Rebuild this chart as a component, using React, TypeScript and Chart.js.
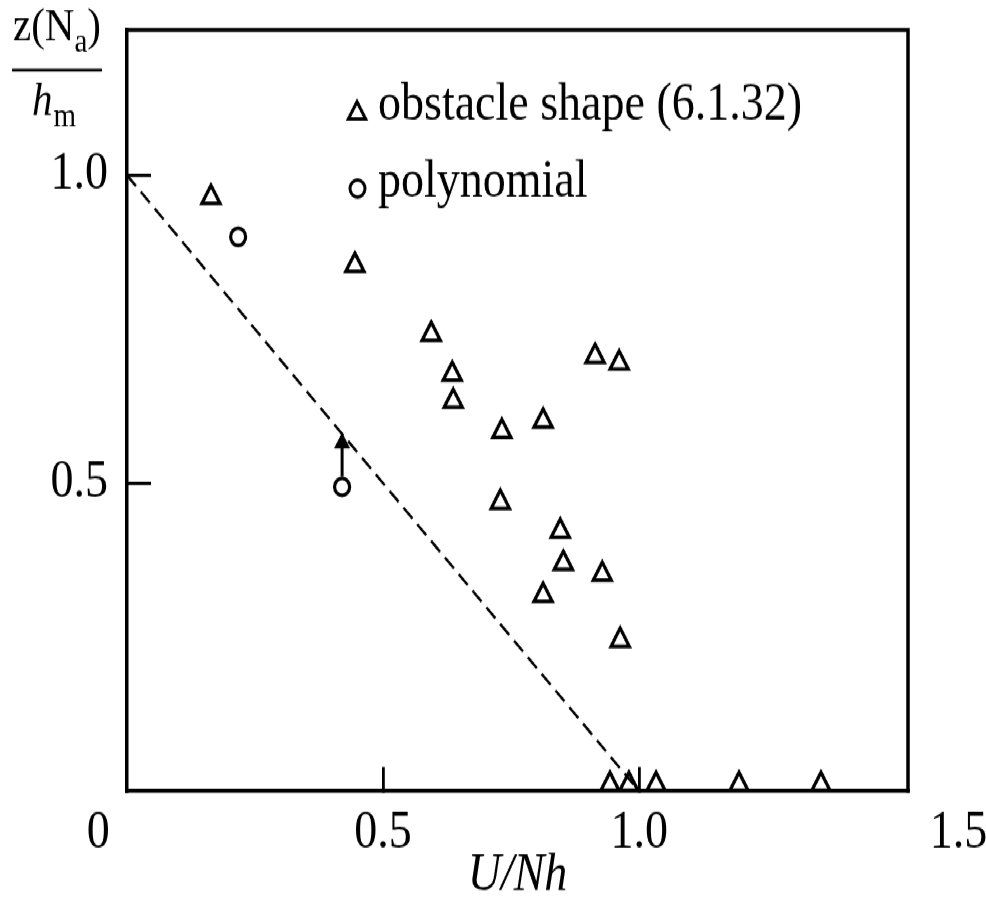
import React, { useEffect, useRef } from 'react';
import { Chart, registerables } from 'chart.js';

Chart.register(...registerables);

// ---- data ----
const OBSTACLE_U = [0.164, 0.445, 0.594, 0.635, 0.637, 0.732, 0.8125, 0.914, 0.961, 0.729, 0.846, 0.852, 0.928, 0.8125, 0.963, 0.943, 0.98, 1.033, 1.195, 1.355];
const OBSTACLE_Z = [0.964, 0.854, 0.742, 0.677, 0.633, 0.584, 0.601, 0.706, 0.695, 0.469, 0.422, 0.37, 0.352, 0.318, 0.245, 0.011, 0.011, 0.011, 0.011, 0.011];
const POLY_U = [0.217, 0.42];
const POLY_Z = [0.9, 0.494];
const GUIDE_U = [0, 1];
const GUIDE_Z = [1, 0];
const ARROW_U = [0.42, 0.42];
const ARROW_Z = [0.511, 0.565];
const X_TICKS = [0, 0.5, 1.0, 1.5];
const Y_TICKS = [0.5, 1.0];
const X_MIN = 0;
const X_MAX = 1.525;
const Y_MIN = 0;
const Y_MAX = 1.236;
const LEGEND_LABELS = ['obstacle shape (6.1.32)', 'polynomial'];
const X_TITLE = 'U/Nh';

// ---- layout ----
const W = 986;
const H = 787;
const SY = 905 / H;
const AREA_LEFT = 127;
const AREA_RIGHT = 908;
const AREA_TOP = 26;
const AREA_BOTTOM = 688;
const FAMILY = '"Liberation Serif", "Times New Roman", serif';

const pts = (xs: number[], ys: number[]) => xs.map((x, i) => ({ x, y: ys[i] }));

function drawTri(ctx: CanvasRenderingContext2D, x: number, y: number, r: number) {
  ctx.beginPath();
  ctx.moveTo(x, y - r);
  ctx.lineTo(x + 0.866 * r, y + 0.5 * r);
  ctx.lineTo(x - 0.866 * r, y + 0.5 * r);
  ctx.closePath();
  ctx.stroke();
}

const framePlugin = {
  id: 'frame',
  afterDraw(chart: any) {
    const { ctx, chartArea: a } = chart;
    ctx.save();
    ctx.strokeStyle = '#000';
    ctx.lineWidth = 3.5;
    ctx.beginPath();
    ctx.moveTo(a.left - 1.5, a.top);
    ctx.lineTo(a.right, a.top);
    ctx.lineTo(a.right, a.bottom + 1.5);
    ctx.stroke();
    ctx.restore();
  },
};

const yTitlePlugin = {
  id: 'yTitle',
  afterDraw(chart: any) {
    const ctx: CanvasRenderingContext2D = chart.ctx;
    ctx.save();
    ctx.fillStyle = '#000';
    ctx.textBaseline = 'alphabetic';
    ctx.textAlign = 'left';
    const big = `41px ${FAMILY}`;
    const small = `29px ${FAMILY}`;
    let x = 13;
    ctx.font = big;
    ctx.fillText('z(N', x, 35);
    x += ctx.measureText('z(N').width;
    ctx.font = small;
    ctx.fillText('a', x, 45);
    x += ctx.measureText('a').width;
    ctx.font = big;
    ctx.fillText(')', x, 35);
    ctx.strokeStyle = '#000';
    ctx.lineWidth = 2.5;
    ctx.beginPath();
    ctx.moveTo(12, 61);
    ctx.lineTo(102, 61);
    ctx.stroke();
    let hx = 32;
    ctx.font = `italic 41px ${FAMILY}`;
    ctx.fillText('h', hx, 100);
    hx += ctx.measureText('h').width + 1;
    ctx.font = small;
    ctx.fillText('m', hx, 110);
    ctx.restore();
  },
};

const legendPlugin = {
  id: 'customLegend',
  afterDraw(chart: any) {
    const ctx: CanvasRenderingContext2D = chart.ctx;
    const ds = chart.data.datasets;
    ctx.save();
    ctx.strokeStyle = '#000';
    ctx.fillStyle = '#000';
    ctx.lineWidth = 3;
    drawTri(ctx, 357, 98.5, 10);
    ctx.beginPath();
    ctx.arc(357.5, 164, 7.5, 0, Math.PI * 2);
    ctx.stroke();
    ctx.font = `46px ${FAMILY}`;
    ctx.textBaseline = 'alphabetic';
    ctx.textAlign = 'left';
    ctx.fillText(ds[0].label, 378, 104.3);
    ctx.fillText(ds[1].label, 378, 171.3);
    ctx.restore();
  },
};

const zeroPad = (s: any) => {
  s.paddingLeft = 0;
  s.paddingRight = 0;
  s.paddingTop = 0;
  s.paddingBottom = 0;
};

export default function App() {
  const ref = useRef<HTMLCanvasElement>(null);

  useEffect(() => {
    const canvas = ref.current;
    if (!canvas) return;
    const chart = new Chart(canvas, {
      type: 'scatter',
      data: {
        datasets: [
          {
            label: LEGEND_LABELS[0],
            data: pts(OBSTACLE_U, OBSTACLE_Z),
            pointStyle: 'triangle',
            pointRadius: 10.5,
            borderWidth: 3.2,
            borderColor: '#000',
            backgroundColor: 'rgba(0,0,0,0)',
            showLine: false,
          },
          {
            label: LEGEND_LABELS[1],
            data: pts(POLY_U, POLY_Z),
            pointStyle: 'circle',
            pointRadius: 7.5,
            borderWidth: 3.2,
            borderColor: '#000',
            backgroundColor: 'rgba(0,0,0,0)',
            showLine: false,
          },
          {
            label: 'guide',
            data: pts(GUIDE_U, GUIDE_Z),
            showLine: true,
            pointRadius: 0,
            borderColor: '#000',
            borderWidth: 2.4,
            borderDash: [13, 7],
          },
          {
            label: 'arrow',
            data: pts(ARROW_U, ARROW_Z),
            showLine: true,
            pointRadius: 0,
            borderColor: '#000',
            borderWidth: 3,
          },
          {
            label: 'arrowhead',
            data: pts(ARROW_U.slice(1), ARROW_Z.slice(1)),
            pointStyle: 'triangle',
            pointRadius: 8.5,
            borderWidth: 1,
            borderColor: '#000',
            backgroundColor: '#000',
            showLine: false,
          },
        ],
      },
      options: {
        animation: false,
        responsive: false,
        events: [],
        layout: { padding: { top: AREA_TOP, right: W - AREA_RIGHT, left: 0, bottom: 0 } },
        plugins: { legend: { display: false }, tooltip: { enabled: false } },
        scales: {
          x: {
            type: 'linear',
            min: X_MIN,
            max: X_MAX,
            afterBuildTicks: (s: any) => {
              s.ticks = X_TICKS.map((v) => ({ value: v }));
            },
            afterFit: (s: any) => {
              s.height = H - AREA_BOTTOM;
              zeroPad(s);
            },
            grid: {
              drawOnChartArea: false,
              drawTicks: true,
              tickLength: -21,
              lineWidth: 2.8,
              color: (c: any) =>
                c.tick && (c.tick.value === 0.5 || c.tick.value === 1) ? '#000' : 'rgba(0,0,0,0)',
            },
            border: { display: true, color: '#000', width: 3.5 },
            ticks: {
              color: '#000',
              font: { family: FAMILY, size: 46 },
              padding: 30,
              maxRotation: 0,
              autoSkip: false,
              callback: (v: any) => {
                const n = Number(v);
                if (n === 0) return '0     ';
                if (n === 1.5) return '           1.5';
                return n.toFixed(1);
              },
            },
            title: {
              display: true,
              text: X_TITLE,
              color: '#000',
              font: { family: FAMILY, size: 46, style: 'italic', lineHeight: 1 },
              padding: { top: 0, bottom: 2 },
            },
          },
          y: {
            type: 'linear',
            min: Y_MIN,
            max: Y_MAX,
            afterBuildTicks: (s: any) => {
              s.ticks = Y_TICKS.map((v) => ({ value: v }));
            },
            afterFit: (s: any) => {
              s.width = AREA_LEFT;
              zeroPad(s);
            },
            grid: {
              drawOnChartArea: false,
              drawTicks: true,
              tickLength: -24,
              lineWidth: 2.8,
              color: '#000',
            },
            border: { display: true, color: '#000', width: 3.5 },
            ticks: {
              color: '#000',
              font: { family: FAMILY, size: 46 },
              padding: 43,
              autoSkip: false,
              callback: (v: any) => Number(v).toFixed(1),
            },
          },
        },
      },
      plugins: [framePlugin, yTitlePlugin, legendPlugin],
    } as any);
    return () => chart.destroy();
  }, []);

  return (
    <div
      style={{
        position: 'absolute',
        left: 0,
        top: 0,
        width: W,
        height: H,
        background: '#fff',
        transform: `scaleY(${SY})`,
        transformOrigin: '0 0',
      }}
    >
      <canvas ref={ref} width={W} height={H} style={{ display: 'block' }} />
    </div>
  );
}
